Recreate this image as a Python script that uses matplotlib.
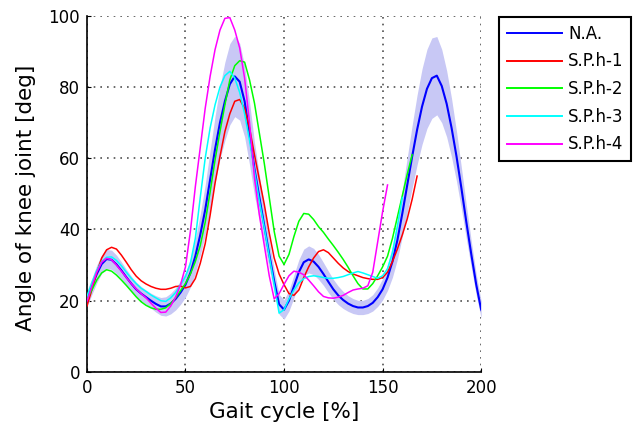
import numpy as np
import matplotlib
matplotlib.use("Agg")
import matplotlib.pyplot as plt

plt.rcParams["font.family"] = "DejaVu Sans"

# gait cycle sample points [%]
gait = np.arange(0, 200.1, 2.5)

# normal (N.A.) knee angle, mean and standard deviation [deg]
na_mean = [20.5, 24, 27.5, 30.3, 31.7, 31.5, 30.2, 28.5, 26.6, 24.8,
           23.2, 22, 21, 20, 19.1, 18.4, 18.4, 19.2, 20.5, 22.3,
           24.5, 27.8, 32.5, 38.5, 45.5, 54, 62.5, 70, 76, 80.8,
           83, 81.5, 76, 67, 57, 49, 41, 33, 25.5, 19,
           17.5, 20, 24, 28, 30.8, 31.6, 31, 29.5, 27.5, 25.3,
           23.2, 21.5, 20.2, 19.2, 18.5, 18.1, 18.1, 18.5, 19.4, 21,
           23.2, 26.5, 31, 37, 44.5, 52.5, 60.5, 68, 74.5, 79.5,
           82.5, 83.2, 80.3, 75.3, 68.5, 60.5, 51.5, 42, 33, 24.5,
           17.5]
na_std = [2.2, 2.3, 2.5, 2.6, 2.7, 2.7, 2.6, 2.4, 2.2, 2.1,
          2, 2, 2, 2.1, 2.3, 2.5, 2.7, 2.9, 3.1, 3.3,
          3.5, 4, 4.8, 5.8, 7, 8.2, 9.3, 10.2, 11, 11.4,
          11.3, 10.8, 10, 8.8, 7.5, 6.2, 5, 4, 3.3, 2.8,
          2.7, 2.9, 3.2, 3.5, 3.7, 3.8, 3.7, 3.5, 3.2, 3,
          2.8, 2.6, 2.4, 2.2, 2.1, 2, 2, 2.1, 2.3, 2.6,
          3, 3.6, 4.4, 5.4, 6.5, 7.7, 8.8, 9.8, 10.6, 11.1,
          11.3, 11, 10.3, 9.3, 8.2, 7, 5.8, 4.7, 3.7, 2.9,
          2.4]

# subjects
sph1 = [18.5, 23, 28, 32, 34.3, 35, 34.5, 32.8, 30.8, 28.7,
        26.9, 25.6, 24.7, 24, 23.5, 23.2, 23.2, 23.5, 24, 24.1,
        23.6, 24, 26.2, 30.5, 36, 44, 53, 60.5, 67.5, 72.5,
        76, 76.5, 74, 68.5, 61, 54, 47, 39, 32, 27.5,
        24.5, 22, 21.5, 23, 26.5, 29.5, 32, 33.8, 34.3, 33.5,
        32, 30.5, 29.2, 28.2, 27.5, 27, 26.5, 26.2, 26, 26,
        26.5, 28, 31, 34.5, 38.5, 43, 48.5, 55]
sph2 = [20.5, 23, 25.8, 27.8, 28.7, 28.3, 27.2, 25.8, 24.3, 22.7,
        21.1, 19.7, 18.7, 18, 17.6, 17.6, 18, 19.2, 20.8, 22.8,
        24.8, 27.5, 31, 35.5, 42, 50.5, 59.5, 67.5, 75, 82,
        86, 87.4, 87, 82, 75.5, 67, 58.5, 49, 39.5, 32.5,
        30.2, 33, 38, 42.3, 44.5, 44.3, 42.8, 40.8, 39.2, 37.3,
        35.5, 33.6, 31.6, 29.4, 27, 24.8, 23.3, 23.3, 24.8, 27,
        29.5, 32.5, 37.5, 43.5, 49.5, 55.5, 61]
sph3 = [21.2, 25, 28.5, 31, 32.2, 32.3, 31.3, 29.8, 28, 26.3,
        24.8, 23.5, 22.6, 21.6, 20.8, 20, 19.8, 20.8, 22.3, 24.5,
        26.8, 30.5, 37.5, 49, 60, 68.5, 75, 80, 83.2, 84.4,
        82.5, 78.5, 72.5, 65, 56.5, 48, 40.5, 32.5, 24.5, 16.5,
        17.5, 20.5, 23, 25, 26.2, 26.8, 27, 26.8, 26.5, 26.3,
        26.3, 26.5, 26.8, 27.3, 27.8, 28.2, 27.8, 27.3, 26.8, 26.3,
        27, 29, 33.5, 41, 49]
sph4 = [19.8, 24, 28, 30.8, 31.9, 31.5, 30, 28.3, 26.5, 24.8,
        23.3, 22, 20.8, 19.3, 17.9, 16.7, 16.8, 18.5, 21, 24.5,
        29.5, 39.5, 52, 63, 74, 83, 90.5, 96, 99.3, 99.5,
        96, 91, 82.5, 70, 54.5, 44, 35.5, 27, 20.5, 22,
        24.6, 27, 28.3, 28, 27.3, 25.8, 24.2, 22.5, 21.2, 20.8,
        20.7, 21, 21.5, 22.3, 23, 23.3, 23.5, 24.2, 28, 36.5,
        45, 52.5]

labels = ["N.A.", "S.P.h-1", "S.P.h-2", "S.P.h-3", "S.P.h-4"]
colors = ["#0000ff", "#ff0000", "#00ff00", "#00ffff", "#ff00ff"]

fig = plt.figure(figsize=(6.39, 4.28), dpi=100)
ax = fig.add_axes([0.136, 0.131, 0.617, 0.832])

na_mean = np.array(na_mean)
na_std = np.array(na_std)
ax.fill_between(gait, na_mean - na_std, na_mean + na_std,
                color="#c8c8f5", linewidth=0, zorder=1)

handles = []
h, = ax.plot(gait, na_mean, color=colors[0], lw=1.5, zorder=3)
handles.append(h)
for i, series in enumerate([sph1, sph2, sph3, sph4]):
    h, = ax.plot(gait[:len(series)], series, color=colors[i + 1], lw=1.1, zorder=3)
    handles.append(h)

ax.set_xlim(0, 200)
ax.set_ylim(0, 100)
ax.set_xticks([0, 50, 100, 150, 200])
ax.set_yticks([0, 20, 40, 60, 80, 100])
ax.grid(True, color="#505050", linestyle=(0, (1, 3)), linewidth=1.2)
ax.set_axisbelow(True)
for side in ["top", "right"]:
    ax.spines[side].set_visible(False)
for side in ["left", "bottom"]:
    ax.spines[side].set_linewidth(1.2)
ax.tick_params(direction="in", length=3, labelsize=12, pad=5)

ax.set_xlabel("Gait cycle [%]", fontsize=15.5)
ax.set_ylabel("Angle of knee joint [deg]", fontsize=15.5)
ax.xaxis.set_label_coords(0.5, -0.085)
ax.yaxis.set_label_coords(-0.128, 0.49)

leg = fig.legend(handles, labels, loc="upper left",
                 bbox_to_anchor=(499 / 639, 1 - 17 / 428),
                 borderaxespad=0, fontsize=12, handlelength=3.3,
                 handletextpad=0.38, borderpad=0.46, labelspacing=0.58,
                 fancybox=False, framealpha=1)
leg.get_frame().set_edgecolor("black")
leg.get_frame().set_linewidth(1.5)
for line in leg.get_lines():
    line.set_linewidth(1.4)

fig.savefig("out.png", dpi=100)
